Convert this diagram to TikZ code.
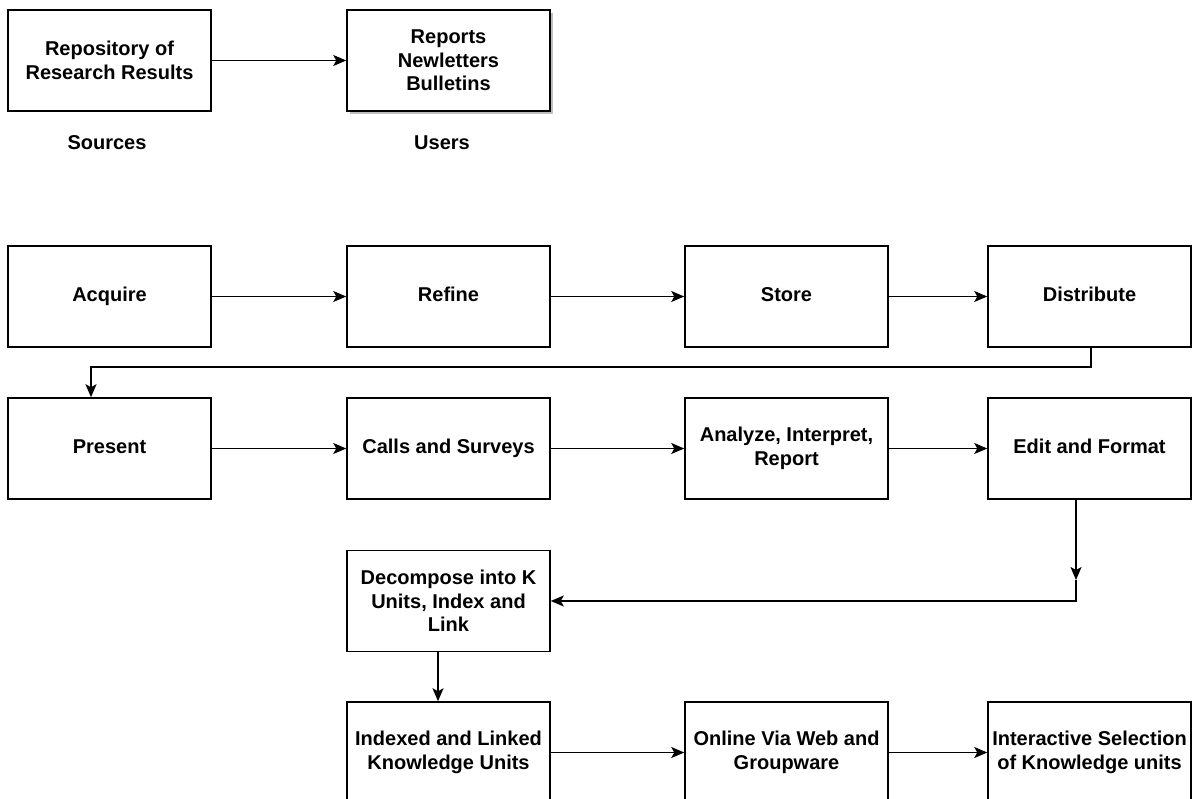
\documentclass[tikz,border=0pt]{standalone}
\usepackage{fontspec}
\setmainfont{Liberation Sans}
\usetikzlibrary{arrows.meta,shadows,calc}
\begin{document}
\begin{tikzpicture}[x=1pt,y=-1pt,
  box/.style={draw, line width=1.5pt, fill=white, minimum width=203pt, minimum height=101pt,
    inner sep=0pt, align=center, font=\fontsize{20}{23.5}\selectfont\bfseries},
  one/.style={text height=14.8pt, text depth=4.2pt},
  lbl/.style={inner sep=0pt, text height=14.8pt, text depth=4.2pt, font=\fontsize{20}{23.5}\selectfont\bfseries},
  arr/.style={line width=1.5pt, -{Stealth[length=13pt,width=11pt,inset=3pt]}},
  ln/.style={line width=1.5pt}]
\clip (0,0) rectangle (1199,798);
\fill[white] (0,0) rectangle (1199,798);
% top row
\node[box] (rep) at (109.5,60.5) {Repository of\\Research Results};
\node[box, drop shadow={shadow xshift=3pt, shadow yshift=-3pt, fill=black, opacity=0.25}] (rpt) at (448.5,60.5) {Reports\\Newletters\\Bulletins};
\node[lbl] (src) at (107,144) {Sources};
\node[lbl] (usr) at (442,144) {Users};
% row 1
\node[box, one] (acq) at (109.5,296.5) {Acquire};
\node[box, one] (ref) at (448.5,296.5) {Refine};
\node[box, one] (sto) at (786.5,296.5) {Store};
\node[box, one] (dis) at (1089.5,296.5) {Distribute};
% row 2
\node[box, one] (pre) at (109.5,448.5) {Present};
\node[box, one] (cal) at (448.5,448.5) {Calls and Surveys};
\node[box] (ana) at (786.5,448.5) {Analyze, Interpret,\\Report};
\node[box, one] (edi) at (1089.5,448.5) {Edit and Format};
% row 3
\node[box] (dec) at (448.5,601) {Decompose into K\\Units, Index and\\Link};
% row 4
\node[box] (ind) at (448.5,752.5) {Indexed and Linked\\Knowledge Units};
\node[box] (onl) at (786.5,752.5) {Online Via Web and\\Groupware};
\node[box] (int) at (1089.5,752.5) {Interactive Selection\\of Knowledge units};
% connectors
\draw[arr] (rep) -- (rpt);
\draw[arr] (acq) -- (ref);
\draw[arr] (ref) -- (sto);
\draw[arr] (sto) -- (dis);
\coordinate (d1) at (1091,367);
\coordinate (d2) at (91,367);
\draw[arr] (dis.south -| d1) -- (d1) -- (d2) -- (d2 |- pre.north);
\draw[arr] (pre) -- (cal);
\draw[arr] (cal) -- (ana);
\draw[arr] (ana) -- (edi);
\coordinate (e1) at (1076,580);
\coordinate (e2) at (1076,601);
\draw[arr] (edi.south -| e1) -- (e1);
\draw[arr] (e1) -- (e2) -- (dec.east);
\coordinate (f1) at (438,652);
\draw[arr] (dec.south -| f1) -- (f1 |- ind.north);
\draw[arr] (ind) -- (onl);
\draw[arr] (onl) -- (int);
\end{tikzpicture}
\end{document}
